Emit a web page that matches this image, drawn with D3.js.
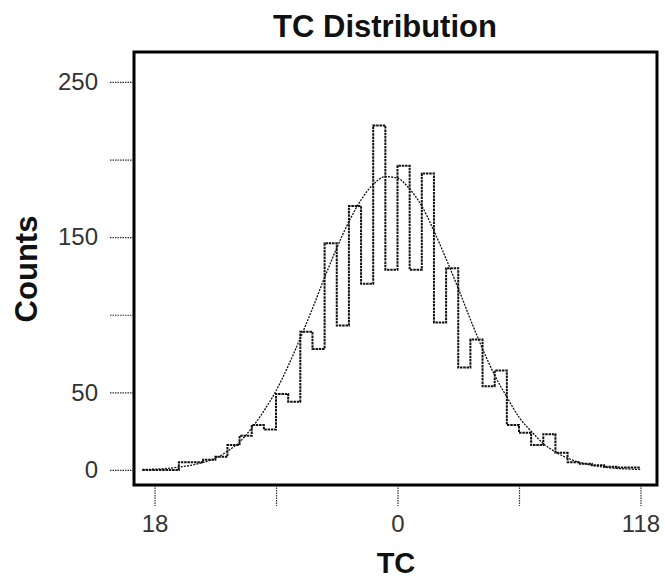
<!DOCTYPE html>
<html>
<head>
<meta charset="utf-8">
<script src="https://cdn.jsdelivr.net/npm/d3@7"></script>
<style>
	body { margin: 0; background: #fff; }
	svg { display: block; }
</style>
</head>
<body>
<div id="chart"></div>
<script>
(function() {
	"use strict";

	// bin index of the first count, each bin is 1 wide
	var binStart = -1;
	var binCounts = [0, 0, 0, 5, 5, 6.5, 8.5, 16, 22, 29, 26, 49, 44, 89, 78, 146, 93, 170, 120, 222,
		129, 196, 129, 191, 95, 130, 66, 84, 54, 64, 29, 24, 16, 23, 11, 5, 4, 3, 2, 1.5, 1.5];

	// fitted curve, read at each bin edge
	var curveStart = -1;
	var curveValues = [0.3, 0.5, 1, 1.8, 3, 4.8, 7.5, 12, 18, 27, 38, 51, 67, 85, 104, 124, 143, 160, 174, 184,
		189, 188, 181, 170, 154, 136, 117, 97, 78, 61, 47, 34, 25, 17, 11.6, 7.6, 4.9, 3, 1.8, 1, 0.6, 0.3];

	var xTicks = [0, 10, 20, 30, 40];
	var xTickLabels = ["18", "", "0", "", "118"];
	var yTicks = [0, 50, 100, 150, 200, 250];
	var yTickLabels = ["0", "50", "", "150", "", "250"];

	var W = 665, H = 578;
	var box = { left: 134, right: 657, top: 52, bottom: 485 };

	var x = d3.scaleLinear().domain([-1.69, 41.36]).range([box.left, box.right]);
	var y = d3.scaleLinear().domain([-9.7, 269.3]).range([box.bottom, box.top]);

	var svg = d3.select("#chart").append("svg")
		.attr("width", W)
		.attr("height", H)
		.style("font-family", "'Liberation Sans', Arial, sans-serif");

	// step outline of the histogram
	var steps = binCounts.map(function(c, i) { return [binStart + i, c]; });
	steps.push([binStart + binCounts.length, binCounts[binCounts.length - 1]]);

	var stepLine = d3.line()
		.x(function(d) { return x(d[0]); })
		.y(function(d) { return y(d[1]); })
		.curve(d3.curveStepAfter);

	svg.append("path")
		.datum(steps)
		.attr("d", stepLine)
		.attr("fill", "none")
		.attr("stroke", "#111")
		.attr("stroke-width", 2)
		.attr("stroke-dasharray", "2.5,0.8");

	var fitLine = d3.line()
		.x(function(d, i) { return x(curveStart + i); })
		.y(function(d) { return y(d); })
		.curve(d3.curveMonotoneX);

	svg.append("path")
		.datum(curveValues)
		.attr("d", fitLine)
		.attr("fill", "none")
		.attr("stroke", "#111")
		.attr("stroke-width", 1.3)
		.attr("stroke-dasharray", "2,1.2");

	// axes, ticks pushed outside the box
	var yAxis = d3.axisLeft(y)
		.tickValues(yTicks)
		.tickSize(24)
		.tickPadding(12)
		.tickFormat(function(d, i) { return yTickLabels[i]; });

	var gy = svg.append("g")
		.attr("transform", "translate(" + box.left + ",0)")
		.call(yAxis);

	var xAxis = d3.axisBottom(x)
		.tickValues(xTicks)
		.tickSize(21)
		.tickPadding(9)
		.tickFormat(function(d, i) { return xTickLabels[i]; });

	var gx = svg.append("g")
		.attr("transform", "translate(0," + box.bottom + ")")
		.call(xAxis);

	[gx, gy].forEach(function(g) {
		g.select(".domain").remove();
		g.selectAll(".tick line")
			.attr("stroke", "#333")
			.attr("stroke-width", 1.2)
			.attr("stroke-dasharray", "1.5,1");
		g.selectAll(".tick text")
			.attr("fill", "#333")
			.style("font-size", "24px")
			.style("font-family", "'Liberation Sans', Arial, sans-serif");
	});

	svg.append("rect")
		.attr("x", box.left)
		.attr("y", box.top)
		.attr("width", box.right - box.left)
		.attr("height", box.bottom - box.top)
		.attr("fill", "none")
		.attr("stroke", "#000")
		.attr("stroke-width", 3);

	svg.append("text")
		.attr("x", 385)
		.attr("y", 37)
		.attr("text-anchor", "middle")
		.style("font-size", "31px")
		.style("font-weight", "bold")
		.attr("fill", "#111")
		.text("TC Distribution");

	svg.append("text")
		.attr("x", 396)
		.attr("y", 573)
		.attr("text-anchor", "middle")
		.style("font-size", "29px")
		.style("font-weight", "bold")
		.attr("fill", "#111")
		.text("TC");

	svg.append("text")
		.attr("transform", "translate(37,269) rotate(-90)")
		.attr("text-anchor", "middle")
		.style("font-size", "31px")
		.style("font-weight", "bold")
		.attr("fill", "#111")
		.text("Counts");
})();
</script>
</body>
</html>
